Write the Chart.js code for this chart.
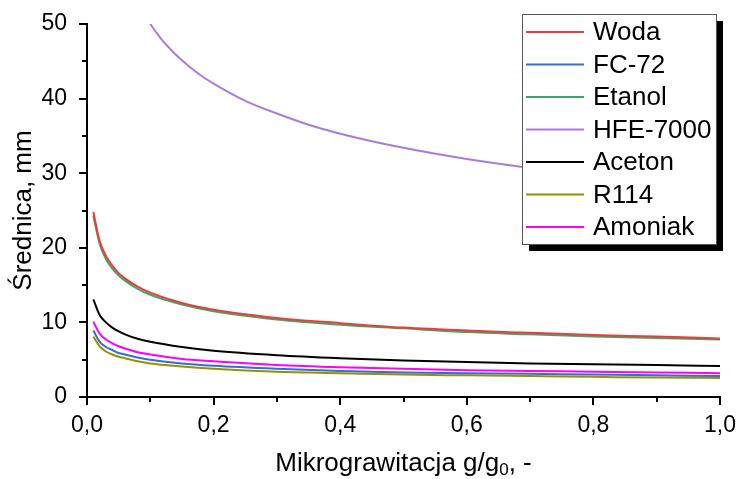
<!DOCTYPE html>
<html>
<head>
<meta charset="utf-8">
<script src="https://cdn.jsdelivr.net/npm/chart.js@4/dist/chart.umd.min.js"></script>
<style>
  html, body { margin: 0; padding: 0; background: #fff; }
  #wrap { width: 739px; height: 479px; }
</style>
</head>
<body>
<div id="wrap"><canvas id="chart" width="739" height="479"></canvas></div>
<script>
// === Data ===
const gValues = [0.01, 0.02, 0.03, 0.04, 0.05, 0.06, 0.08, 0.1, 0.15, 0.2, 0.3, 0.4, 0.5, 0.6, 0.7, 0.8, 0.9, 1.0];
const woda    = [24.8, 20.9, 18.9, 17.6, 16.6, 15.9, 14.8, 14.0, 12.6, 11.7, 10.6, 9.9, 9.3, 8.9, 8.6, 8.3, 8.1, 7.85];
const fc72    = [8.9, 7.4, 6.7, 6.3, 5.9, 5.7, 5.3, 5.0, 4.5, 4.2, 3.8, 3.5, 3.3, 3.2, 3.1, 3.0, 2.9, 2.8];
const etanol  = [24.3, 20.5, 18.5, 17.2, 16.3, 15.6, 14.5, 13.7, 12.4, 11.5, 10.4, 9.7, 9.2, 8.7, 8.4, 8.1, 7.9, 7.7];
const hfeG    = [0.1, 0.11, 0.12, 0.13, 0.14, 0.16, 0.18, 0.2, 0.25, 0.3, 0.35, 0.4, 0.5, 0.6, 0.7, 0.8, 0.9, 1.0];
const hfe7000 = [50.0, 48.8, 47.7, 46.8, 45.9, 44.4, 43.1, 42.0, 39.7, 38.0, 36.5, 35.3, 33.4, 31.9, 30.7, 29.7, 28.9, 28.1];
const aceton  = [13.1, 11.0, 10.0, 9.3, 8.8, 8.4, 7.8, 7.4, 6.7, 6.2, 5.6, 5.2, 4.9, 4.7, 4.5, 4.4, 4.3, 4.15];
const r114    = [8.1, 6.8, 6.1, 5.7, 5.4, 5.2, 4.8, 4.5, 4.1, 3.8, 3.4, 3.2, 3.0, 2.9, 2.8, 2.7, 2.6, 2.55];
const amoniak = [10.1, 8.5, 7.7, 7.2, 6.8, 6.5, 6.0, 5.7, 5.1, 4.8, 4.3, 4.0, 3.8, 3.6, 3.5, 3.4, 3.3, 3.2];

const FONT = "'Liberation Sans', Arial, sans-serif";

function pts(xs, ys) {
  return xs.map((x, i) => ({ x: x, y: ys[i] }));
}

function ds(label, xs, ys, color) {
  return {
    label: label,
    data: pts(xs, ys),
    borderColor: color,
    backgroundColor: color,
    borderWidth: 2,
    pointRadius: 0,
    cubicInterpolationMode: "monotone",
    fill: false,
  };
}

const datasets = [
  ds("Woda", gValues, woda, "#ee3b3b"),
  ds("FC-72", gValues, fc72, "#2f6fd6"),
  ds("Etanol", gValues, etanol, "#3aa86b"),
  ds("HFE-7000", hfeG, hfe7000, "#a97bdc"),
  ds("Aceton", gValues, aceton, "#000000"),
  ds("R114", gValues, r114, "#999000"),
  ds("Amoniak", gValues, amoniak, "#ff00ff"),
];

// === Ticks (major + minor), titles, legend with shadow ===
const decorPlugin = {
  id: "decor",
  afterDraw(chart) {
    const ctx = chart.ctx;
    const xs = chart.scales.x;
    const ys = chart.scales.y;
    const area = chart.chartArea;
    ctx.save();
    ctx.strokeStyle = "#000";
    ctx.lineWidth = 2;
    // x ticks
    for (let i = 0; i <= 10; i++) {
      const px = Math.round(xs.getPixelForValue(i / 10));
      const len = i % 2 === 0 ? 8 : 5;
      ctx.beginPath();
      ctx.moveTo(px, area.bottom);
      ctx.lineTo(px, area.bottom + len);
      ctx.stroke();
    }
    // y ticks
    for (let i = 0; i <= 10; i++) {
      const py = Math.round(ys.getPixelForValue(i * 5));
      const len = i % 2 === 0 ? 8 : 5;
      ctx.beginPath();
      ctx.moveTo(area.left, py);
      ctx.lineTo(area.left - len, py);
      ctx.stroke();
    }

    // y title
    ctx.fillStyle = "#000";
    ctx.font = "26px " + FONT;
    ctx.textAlign = "center";
    ctx.textBaseline = "middle";
    ctx.save();
    ctx.translate(24, (area.top + area.bottom) / 2);
    ctx.rotate(-Math.PI / 2);
    ctx.fillText("Średnica, mm", 0, 0);
    ctx.restore();

    // x title with subscript
    const p1 = "Mikrograwitacja g/g";
    const sub = "0";
    const p2 = ", -";
    ctx.textBaseline = "alphabetic";
    ctx.textAlign = "left";
    ctx.font = "26px " + FONT;
    const w1 = ctx.measureText(p1).width;
    const w3 = ctx.measureText(p2).width;
    ctx.font = "17px " + FONT;
    const w2 = ctx.measureText(sub).width;
    const total = w1 + w2 + w3;
    const x0 = (area.left + area.right) / 2 - total / 2;
    const base = 471;
    ctx.font = "26px " + FONT;
    ctx.fillText(p1, x0, base);
    ctx.font = "17px " + FONT;
    ctx.fillText(sub, x0 + w1, base + 4);
    ctx.font = "26px " + FONT;
    ctx.fillText(p2, x0 + w1 + w2, base);

    // legend box
    const lx = 522, ly = 14, lw = 194, lh = 230;
    ctx.fillStyle = "#000";
    ctx.fillRect(lx + 7, ly + 7, lw, lh);
    ctx.fillStyle = "#fff";
    ctx.fillRect(lx, ly, lw, lh);
    ctx.lineWidth = 1;
    ctx.strokeStyle = "#555";
    ctx.strokeRect(lx + 0.5, ly + 0.5, lw, lh);
    ctx.font = "26px " + FONT;
    ctx.textBaseline = "middle";
    chart.data.datasets.forEach((d, i) => {
      const yy = 32 + i * 32.5;
      ctx.strokeStyle = d.borderColor;
      ctx.lineWidth = 2;
      ctx.beginPath();
      ctx.moveTo(526, yy);
      ctx.lineTo(584, yy);
      ctx.stroke();
      ctx.fillStyle = "#000";
      ctx.fillText(d.label, 593, yy + 1);
    });
    ctx.restore();
  },
};

new Chart(document.getElementById("chart"), {
  type: "line",
  data: { datasets: datasets },
  options: {
    responsive: false,
    animation: false,
    layout: { padding: { top: 24, right: 19, left: 0, bottom: 0 } },
    plugins: {
      legend: { display: false },
      tooltip: { enabled: false },
    },
    scales: {
      x: {
        type: "linear",
        min: 0,
        max: 1,
        afterFit: (s) => {
          s.height = 82;
          s.paddingLeft = 0;
          s.paddingRight = 0;
        },
        grid: { display: false },
        border: { display: true, color: "#000", width: 2 },
        ticks: {
          stepSize: 0.2,
          color: "#000",
          padding: 7,
          font: { family: FONT, size: 23 },
          maxRotation: 0,
          callback: (v) => v.toFixed(1).replace(".", ","),
        },
      },
      y: {
        min: 0,
        max: 50,
        afterFit: (s) => {
          s.width = 87;
          s.paddingTop = 0;
          s.paddingBottom = 0;
        },
        grid: { display: false },
        border: { display: true, color: "#000", width: 2 },
        ticks: {
          stepSize: 10,
          color: "#000",
          padding: 12,
          font: { family: FONT, size: 23 },
        },
      },
    },
  },
  plugins: [decorPlugin],
});
</script>
</body>
</html>
